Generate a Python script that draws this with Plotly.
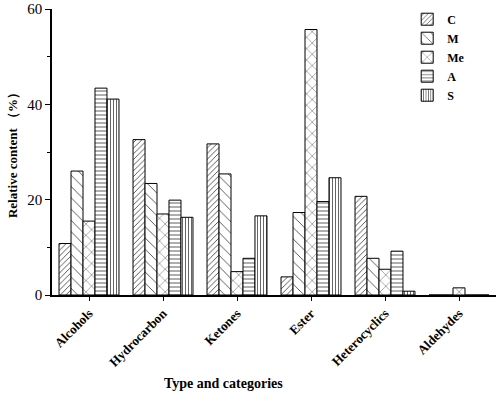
import plotly.graph_objects as go

categories = ["Alcohols", "Hydrocarbon", "Ketones", "Ester", "Heterocyclics", "Aldehydes"]
series_names = ["C", "M", "Me", "A", "S"]
C_vals = [10.8, 32.6, 31.7, 3.8, 20.7, 0]
M_vals = [26.0, 23.4, 25.4, 17.3, 7.7, 0]
Me_vals = [15.5, 17.0, 4.9, 55.7, 5.4, 1.5]
A_vals = [43.4, 19.9, 7.7, 19.6, 9.2, 0]
S_vals = [41.1, 16.3, 16.6, 24.6, 0.8, 0]
y_ticks = [0, 20, 40, 60]

values = [C_vals, M_vals, Me_vals, A_vals, S_vals]
patterns = [
    dict(shape="/", size=4, solidity=0.2),
    dict(shape="\\", size=8, solidity=0.1),
    dict(shape="x", size=8, solidity=0.1),
    dict(shape="-", size=4, solidity=0.2),
    dict(shape="|", size=3, solidity=0.25),
]

font_fam = "Liberation Serif, Times New Roman, serif"

fig = go.Figure()
for name, vals, pat in zip(series_names, values, patterns):
    fig.add_trace(go.Bar(
        x=categories, y=vals, name=f"<b>{name}</b>",
        marker=dict(
            color="white",
            line=dict(color="black", width=1),
            pattern=dict(fgcolor="#333", bgcolor="white", fillmode="replace", **pat),
        ),
    ))

fig.update_layout(
    width=500, height=394,
    margin=dict(l=52, r=4, t=9, b=99),
    paper_bgcolor="white", plot_bgcolor="white",
    barmode="group", bargap=0.19, bargroupgap=0,
    font=dict(family=font_fam, color="black", size=13),
    showlegend=True,
    legend=dict(x=0.80, y=1.015, xanchor="left", yanchor="top",
                font=dict(size=12, family=font_fam), tracegroupgap=0,
                itemwidth=30, bgcolor="rgba(0,0,0,0)"),
    xaxis=dict(
        automargin=False,
        showline=True, linecolor="black", linewidth=1.5,
        ticks="outside", ticklen=4, tickcolor="black",
        tickangle=-45, tickfont=dict(size=13, family=font_fam),
        tickprefix="<b>", ticksuffix="</b>",
        range=[-0.5, 5.5],
    ),
    yaxis=dict(
        automargin=False,
        range=[0, 60], tickvals=y_ticks,
        showline=True, linecolor="black", linewidth=1.5,
        ticks="outside", ticklen=5, tickcolor="black",
        showgrid=False, zeroline=False,
        tickfont=dict(size=15, family=font_fam),
        tickprefix="<b>", ticksuffix="</b>",
        minor=dict(ticks="outside", ticklen=3, tickvals=[10, 30, 50], tickcolor="black"),
        title=dict(text="<b>Relative content （%）</b>", font=dict(size=13), standoff=7),
    ),
    annotations=[dict(
        text="<b>Type and categories</b>", xref="paper", yref="paper",
        x=(223 - 52) / 444, y=-(383 - 295) / 286, xanchor="center", yanchor="middle",
        showarrow=False, font=dict(size=14, family=font_fam),
    )],
)

fig.write_html("out.html", config={"displayModeBar": False},
               post_script="document.body.style.margin='0';")
